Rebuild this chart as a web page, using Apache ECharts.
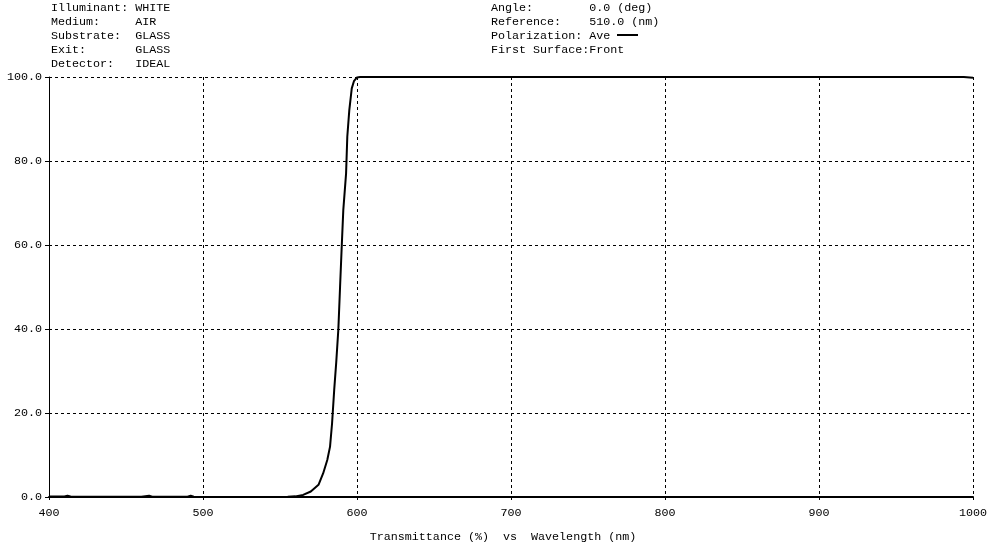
<!DOCTYPE html>
<html>
<head>
<meta charset="utf-8">
<script src="https://cdn.jsdelivr.net/npm/echarts@6/dist/echarts.min.js"></script>
<style>html,body{margin:0;padding:0;background:#fff}#c{width:1006px;height:550px}</style>
</head>
<body>
<div id="c"></div>
<script>
// Data
const wavelength = [400, 401, 403, 410, 412, 414, 420, 460, 465, 467, 470, 490, 492, 494, 500, 540, 555, 560, 565, 570, 575, 578, 580.7, 582.5, 583.8, 585.2, 586.5, 587.9, 589, 590.1, 591.1, 592.9, 593.7, 595, 596.6, 598, 598.7, 600, 602, 650, 700, 800, 900, 994, 995, 1000];
const transmittance = [0.1, 0.3, 0.1, 0.1, 0.3, 0.1, 0.05, 0.05, 0.3, 0.05, 0.05, 0.05, 0.3, 0.05, 0.02, 0.02, 0.05, 0.15, 0.5, 1.3, 2.9, 5.6, 8.8, 12, 17.5, 25.5, 32, 40, 50, 59.8, 68.3, 77, 85.8, 92.1, 97.3, 99, 99.4, 99.9, 100, 100, 100, 100, 100, 100, 99.8, 99.8];
const xTicks = [400, 500, 600, 700, 800, 900, 1000];
const yTicks = [0, 20, 40, 60, 80, 100];
const headerLeft = ["Illuminant: WHITE", "Medium:     AIR", "Substrate:  GLASS", "Exit:       GLASS", "Detector:   IDEAL"];
const headerRight = ["Angle:        0.0 (deg)", "Reference:    510.0 (nm)", "Polarization: Ave", "First Surface:Front"];
const xTitle = "Transmittance (%)  vs  Wavelength (nm)";

const FONT = '"Liberation Mono", "DejaVu Sans Mono", monospace';
const FS = 11.7;

const chart = echarts.init(document.getElementById('c'), null, {renderer: 'canvas'});
const graphics = [];
headerLeft.forEach((t, i) => graphics.push({type: 'text', x: 51, y: 8 + i * 14, style: {text: t, font: FS + 'px ' + FONT, fill: '#000', textVerticalAlign: 'middle'}}));
headerRight.forEach((t, i) => graphics.push({type: 'text', x: 491, y: 8 + i * 14, style: {text: t, font: FS + 'px ' + FONT, fill: '#000', textVerticalAlign: 'middle'}}));
graphics.push({type: 'line', shape: {x1: 617, y1: 35, x2: 638, y2: 35}, style: {stroke: '#000', lineWidth: 2}});
graphics.push({type: 'text', x: 503, y: 537, style: {text: xTitle, font: FS + 'px ' + FONT, fill: '#000', textAlign: 'center', textVerticalAlign: 'middle'}});

chart.setOption({
  animation: false,
  backgroundColor: '#fff',
  grid: {left: 49, right: 33, top: 77, bottom: 53, containLabel: false},
  xAxis: {
    type: 'value', min: 400, max: 1000, interval: 100,
    axisLine: {show: true, onZero: false, lineStyle: {color: '#000', width: 2}},
    axisTick: {show: true, length: 3, lineStyle: {color: '#000'}},
    axisLabel: {color: '#000', fontFamily: FONT, fontSize: FS, margin: 10,
      formatter: v => xTicks.includes(v) ? String(v) : ''},
    splitLine: {show: true, lineStyle: {color: '#000', type: [3, 3], width: 1}}
  },
  yAxis: {
    type: 'value', min: 0, max: 100, interval: 20,
    axisLine: {show: true, lineStyle: {color: '#000', width: 1}},
    axisTick: {show: true, length: 4, lineStyle: {color: '#000'}},
    axisLabel: {color: '#000', fontFamily: FONT, fontSize: FS, margin: 7,
      formatter: v => yTicks.includes(v) ? v.toFixed(1) : ''},
    splitLine: {show: true, lineStyle: {color: '#000', type: [3, 3], width: 1}}
  },
  graphic: graphics,
  series: [{
    type: 'line', data: wavelength.map((w, i) => [w, transmittance[i]]),
    showSymbol: false, smooth: false, clip: false,
    lineStyle: {color: '#000', width: 2}
  }]
});
</script>
</body>
</html>
